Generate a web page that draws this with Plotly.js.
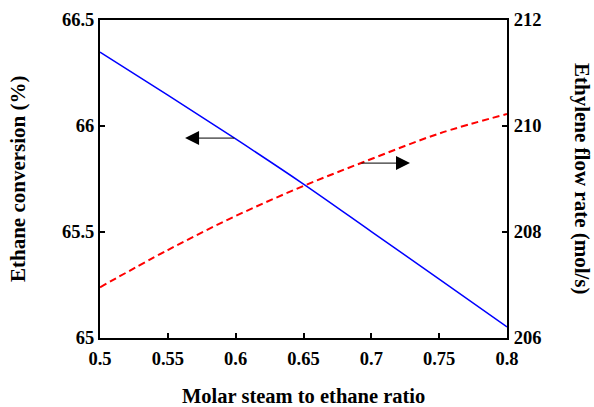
<!DOCTYPE html>
<html>
<head>
<meta charset="utf-8">
<script src="https://cdn.plot.ly/plotly-3.0.1.min.js"></script>
<style>html,body{margin:0;padding:0;background:#fff;}#chart{width:594px;height:407px;}</style>
</head>
<body>
<div id="chart"></div>
<script>
// Data
const steamRatio = [0.5, 0.55, 0.6, 0.65, 0.7, 0.75, 0.8];
const ethaneConversion = [66.349, 66.146, 65.939, 65.726, 65.502, 65.278, 65.052];
const ethyleneFlow = [206.957, 207.660, 208.302, 208.868, 209.377, 209.858, 210.226];
const xTickVals = [0.5, 0.55, 0.6, 0.65, 0.7, 0.75, 0.8];
const xTickText = ["0.5", "0.55", "0.6", "0.65", "0.7", "0.75", "0.8"];
const yTickVals = [65, 65.5, 66, 66.5];
const yTickText = ["65", "65.5", "66", "66.5"];
const y2TickVals = [206, 208, 210, 212];
const y2TickText = ["206", "208", "210", "212"];

const FAM = "'Liberation Serif', 'Times New Roman', Times, serif";
const bold = arr => arr.map(s => "<b>" + s + "</b>");

const traces = [
  {x: steamRatio, y: ethaneConversion, type: "scatter", mode: "lines",
   line: {color: "#0000ff", width: 1.5, shape: "spline"}, yaxis: "y", hoverinfo: "skip"},
  {x: steamRatio, y: ethyleneFlow, type: "scatter", mode: "lines",
   line: {color: "#ff0000", width: 2, dash: "7px,4px", shape: "spline"}, yaxis: "y2", hoverinfo: "skip"}
];

const axisCommon = {
  showline: true, linecolor: "#000", linewidth: 2,
  ticks: "inside", ticklen: 5, tickwidth: 2, tickcolor: "#000",
  showgrid: false, zeroline: false,
  tickfont: {family: FAM, size: 18.5, color: "#000"}
};

const layout = {
  width: 594, height: 407,
  margin: {l: 100, r: 87, t: 20, b: 69},
  paper_bgcolor: "#fff", plot_bgcolor: "#fff",
  showlegend: false,
  font: {family: FAM, size: 18, color: "#000"},
  xaxis: Object.assign({}, axisCommon, {
    range: [0.5, 0.8], tickvals: xTickVals, ticktext: bold(xTickText), mirror: true, ticklabelstandoff: 3
  }),
  yaxis: Object.assign({}, axisCommon, {
    range: [65, 66.5], tickvals: yTickVals, ticktext: bold(yTickText), ticklabelstandoff: 0
  }),
  yaxis2: Object.assign({}, axisCommon, {
    range: [206, 212], tickvals: y2TickVals, ticktext: bold(y2TickText),
    overlaying: "y", side: "right", ticklabelstandoff: 1
  }),
  annotations: [
    {text: "<b>Molar steam to ethane ratio</b>", xref: "paper", yref: "paper",
     x: 0.5, y: 0, xanchor: "center", yanchor: "middle", yshift: -58, showarrow: false,
     font: {family: FAM, size: 20.5, color: "#000"}},
    {text: "<b>Ethane conversion (%)</b>", xref: "paper", yref: "paper",
     x: 0, xanchor: "center", yanchor: "middle", xshift: -82, y: 0.5, textangle: -90, showarrow: false,
     font: {family: FAM, size: 21, color: "#000"}},
    {text: "<b>Ethylene flow rate (mol/s)</b>", xref: "paper", yref: "paper",
     x: 1, xanchor: "center", yanchor: "middle", xshift: 75, y: 0.5, textangle: 90, showarrow: false,
     font: {family: FAM, size: 21, color: "#000"}},
    {x: 0.5627, y: 65.943, xref: "x", yref: "y", ax: 0.6, ay: 65.943, axref: "x", ayref: "y",
     text: "", showarrow: true, arrowhead: 2, arrowsize: 2.8, arrowwidth: 1, arrowcolor: "#000"},
    {x: 0.7285, y: 209.30, xref: "x", yref: "y2", ax: 0.6916, ay: 209.30, axref: "x", ayref: "y2",
     text: "", showarrow: true, arrowhead: 2, arrowsize: 2.8, arrowwidth: 1, arrowcolor: "#000"}
  ]
};

Plotly.newPlot("chart", traces, layout, {staticPlot: true, displayModeBar: false});
</script>
</body>
</html>
